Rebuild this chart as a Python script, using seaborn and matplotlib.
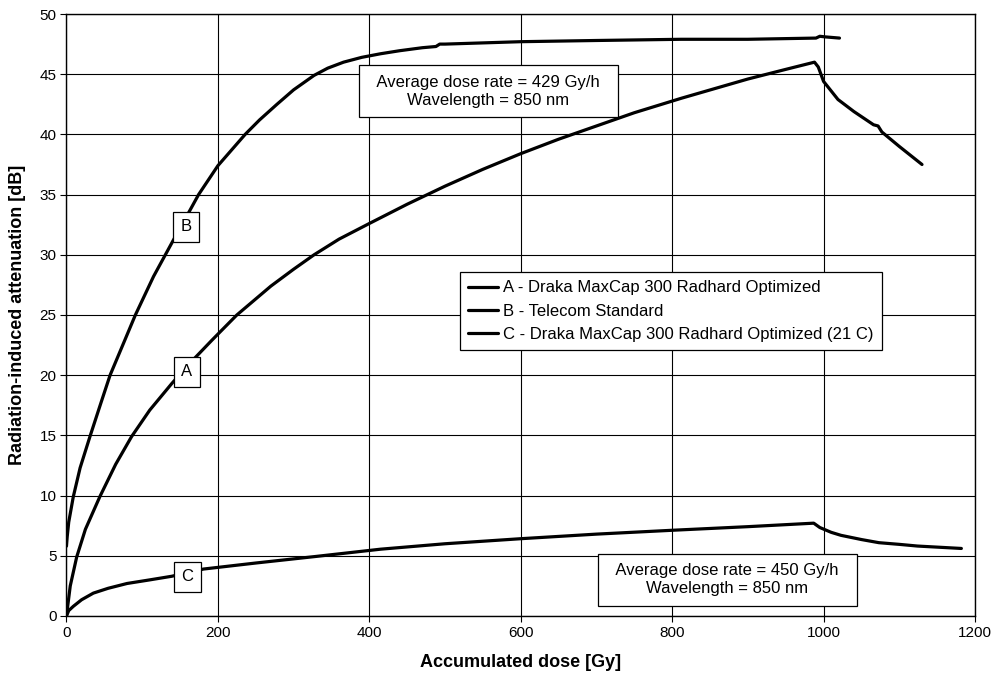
import pandas as pd
import seaborn as sns
import matplotlib.pyplot as plt

# curve A - Draka MaxCap 300 Radhard Optimized
dose_a = [0, 5, 13.5, 25, 44, 65, 86, 110, 139, 160, 192, 225, 270, 300, 327, 360, 400, 450, 500,
          550, 600, 650, 700, 750, 812, 900, 950, 988, 993, 1000, 1019, 1040, 1066, 1072, 1077, 1100, 1130]
att_a = [0, 2.5, 4.9, 7.2, 9.9, 12.6, 14.9, 17.1, 19.3, 20.8, 22.9, 25.0, 27.4, 28.8, 30.0, 31.3, 32.6, 34.2, 35.7,
         37.1, 38.4, 39.6, 40.7, 41.8, 43.0, 44.6, 45.4, 46.0, 45.6, 44.4, 42.9, 41.9, 40.8, 40.7, 40.2, 39.0, 37.5]

# curve B - Telecom Standard
dose_b = [0, 1, 3, 9, 18, 31, 45, 57.6, 77, 91, 115, 141, 157, 174.5, 200, 236, 255, 278, 300, 327, 345,
          366, 390, 415, 440, 470, 488, 493, 500, 600, 700, 812, 900, 990, 995, 1002, 1021]
att_b = [5.8, 6.6, 7.8, 9.9, 12.3, 14.9, 17.6, 20.0, 22.9, 25.0, 28.2, 31.2, 33.0, 35.0, 37.4, 40.0, 41.2,
         42.5, 43.7, 44.9, 45.5, 46.0, 46.4, 46.7, 46.95, 47.2, 47.3, 47.5, 47.5, 47.7, 47.8, 47.9, 47.9,
         48.0, 48.15, 48.1, 48.0]

# curve C - Draka MaxCap 300 Radhard Optimized (21 C)
dose_c = [0, 3, 9, 20, 35.5, 55, 80, 110, 139, 181, 250, 330, 415, 500, 600, 700, 800, 900,
          987, 995, 1010, 1023, 1050, 1073, 1100, 1124, 1182]
att_c = [0, 0.45, 0.8, 1.35, 1.9, 2.3, 2.7, 3.0, 3.3, 3.9, 4.4, 4.95, 5.55, 6.0, 6.42, 6.8, 7.12, 7.42,
         7.71, 7.35, 6.95, 6.7, 6.35, 6.09, 5.95, 5.81, 5.61]

names = ['A - Draka MaxCap 300 Radhard Optimized',
         'B - Telecom Standard',
         'C - Draka MaxCap 300 Radhard Optimized (21 C)']
short = ['A', 'B', 'C']
label_pos = [(159, 20.27), (158, 32.35), (159.5, 3.26)]

df = pd.concat([
    pd.DataFrame({'dose': dose_a, 'att': att_a, 'fiber': names[0]}),
    pd.DataFrame({'dose': dose_b, 'att': att_b, 'fiber': names[1]}),
    pd.DataFrame({'dose': dose_c, 'att': att_c, 'fiber': names[2]}),
])

sns.set_style("white")
plt.rcParams['font.family'] = ['Liberation Sans', 'DejaVu Sans']
for k in ['text.color', 'axes.labelcolor', 'xtick.color', 'ytick.color']:
    plt.rcParams[k] = 'black'

fig = plt.figure(figsize=(9.95, 6.83), dpi=100)
ax = fig.add_axes([0.0668, 0.0981, 0.9131, 0.8814])

sns.lineplot(data=df, x='dose', y='att', hue='fiber', palette=['black'] * 3,
             sort=False, estimator=None, linewidth=2.3, ax=ax, legend=True)

ax.set_xlim(0, 1200)
ax.set_ylim(0, 50)
ax.set_xticks(range(0, 1201, 200))
ax.set_yticks(range(0, 51, 5))
ax.grid(True, color='black', linewidth=0.8)
ax.set_axisbelow(True)
for s in ax.spines.values():
    s.set_color('black')
    s.set_linewidth(1.0)
ax.tick_params(axis='both', direction='out', length=4, width=0.8, color='black',
               labelsize=11, pad=3, bottom=True, left=True)

ax.set_xlabel('Accumulated dose [Gy]', fontsize=13, fontweight='bold', labelpad=10)
ax.set_ylabel('Radiation-induced attenuation [dB]', fontsize=13, fontweight='bold', labelpad=10)

leg = ax.legend(loc='upper left', bbox_to_anchor=(460 / 995, 1 - 272 / 683),
                bbox_transform=fig.transFigure, borderaxespad=0, fontsize=12,
                frameon=True, fancybox=False, framealpha=1, edgecolor='black',
                handlelength=1.8, handletextpad=0.3, labelspacing=0.5, borderpad=0.5)
leg.get_frame().set_linewidth(0.9)
for line in leg.get_lines():
    line.set_linewidth(2.3)

for lab, (x, y) in zip(short, label_pos):
    ax.text(x, y, lab, fontsize=12, ha='center', va='center', zorder=5,
            bbox=dict(boxstyle='square,pad=0.45', facecolor='white', edgecolor='black', linewidth=0.9))

ax.text(557, 43.6, '  Average dose rate = 429 Gy/h  \nWavelength = 850 nm', fontsize=12,
        ha='center', va='center', linespacing=1.25, zorder=5,
        bbox=dict(boxstyle='square,pad=0.55', facecolor='white', edgecolor='black', linewidth=0.9))
ax.text(872.5, 3.0, '  Average dose rate = 450 Gy/h  \nWavelength = 850 nm', fontsize=12,
        ha='center', va='center', linespacing=1.25, zorder=5,
        bbox=dict(boxstyle='square,pad=0.55', facecolor='white', edgecolor='black', linewidth=0.9))

plt.savefig('out.png', dpi=100)
